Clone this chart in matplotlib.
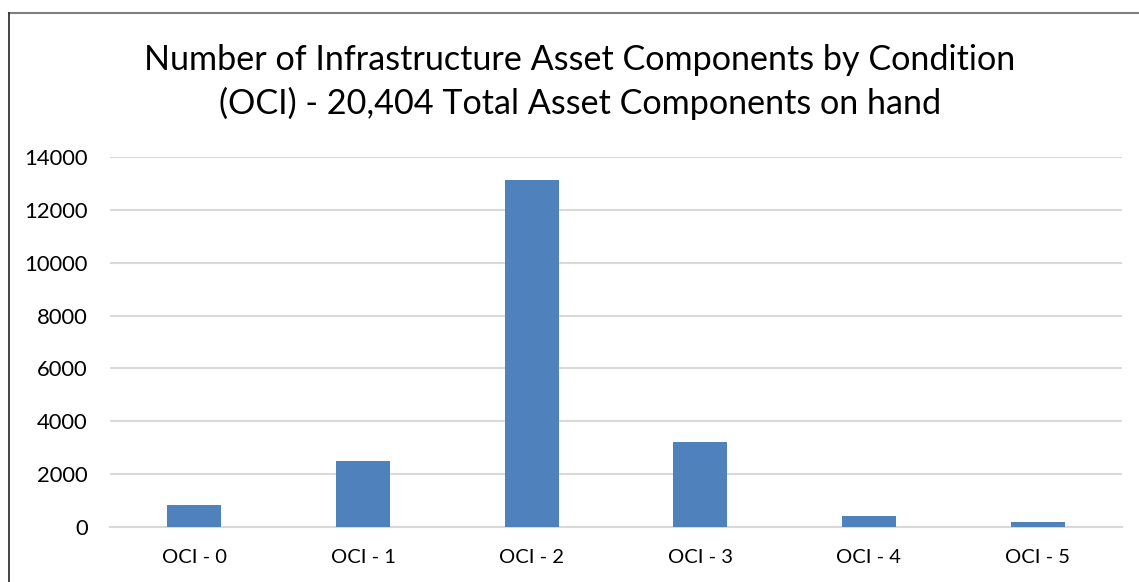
import matplotlib
matplotlib.use("Agg")
from matplotlib import pyplot as plt
from matplotlib.lines import Line2D

# chart data
categories = ["OCI - 0", "OCI - 1", "OCI - 2", "OCI - 3", "OCI - 4", "OCI - 5"]
counts = [840, 2510, 13120, 3230, 420, 200]
yticks = [0, 2000, 4000, 6000, 8000, 10000, 12000, 14000]

plt.rcParams['font.family'] = ['Lato', 'DejaVu Sans']

fig = plt.figure(figsize=(11.39, 5.82), dpi=100)
ax = fig.add_axes([110/1139, 55/582, 1012/1139, 370/582])

x = range(len(categories))
ax.bar(x, counts, width=0.32, color='#4F81BD', zorder=3)

ax.set_xlim(-0.5, len(categories) - 0.5)
ax.set_ylim(0, 14000)
ax.set_yticks(yticks)
ax.set_yticklabels([str(v) for v in yticks])
ax.set_xticks(list(x))
ax.set_xticklabels(categories)
ax.tick_params(axis='both', length=0, colors='black')
ax.tick_params(axis='y', pad=16, labelsize=15.8)
ax.tick_params(axis='x', pad=16, labelsize=14.5)

ax.grid(axis='y', color='#D9D9D9', linewidth=1.5, zorder=0)
for side in ['top', 'right', 'left']:
    ax.spines[side].set_visible(False)
ax.spines['bottom'].set_color('#D9D9D9')
ax.spines['bottom'].set_linewidth(1.5)

fig.text(580/1139, 1 - 60/582, "Number of Infrastructure Asset Components by Condition",
         ha='center', va='center', fontsize=24.6)
fig.text(580/1139, 1 - 103/582, "(OCI) - 20,404 Total Asset Components on hand",
         ha='center', va='center', fontsize=24.6)

# outer frame (top and left edges visible in the screenshot)
fig.add_artist(Line2D([9/1139, 1], [1 - 13/582, 1 - 13/582], transform=fig.transFigure,
                      color='#7F7F7F', linewidth=1.5))
fig.add_artist(Line2D([9/1139, 9/1139], [0, 1 - 13/582], transform=fig.transFigure,
                      color='#262626', linewidth=1.2))

plt.savefig("out.png", dpi=100)
